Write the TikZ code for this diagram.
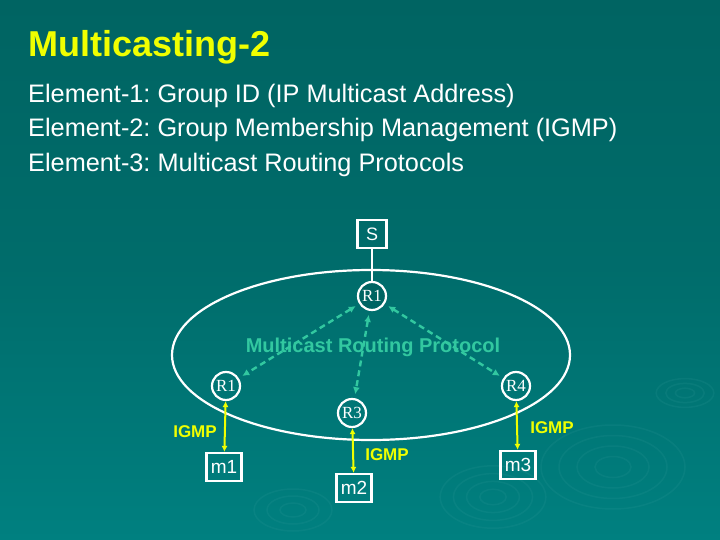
\documentclass[tikz,border=0pt]{standalone}
\usepackage{fontspec}
\setmainfont{Liberation Sans}
\newfontfamily\rfont{Liberation Serif}
\usetikzlibrary{arrows.meta}
\definecolor{bgtop}{RGB}{0,100,98}
\definecolor{bgbot}{RGB}{0,128,128}
\definecolor{ttl}{RGB}{240,255,0}
\definecolor{mrp}{RGB}{50,200,160}
\definecolor{rip}{RGB}{60,160,160}
\tikzset{
  every node/.style={text=white},
  srcbox/.style={draw=white, line width=2.2pt, minimum width=29pt, minimum height=28pt, inner sep=0pt, font=\fontsize{18}{18}\selectfont},
  router/.style={circle, draw=white, line width=2.2pt, minimum size=28pt, inner sep=0pt, font=\rfont\fontsize{17}{17}\selectfont},
  hostbox/.style={draw=white, line width=2.2pt, minimum width=35pt, minimum height=28pt, inner sep=0pt, font=\fontsize{19}{19}\selectfont},
  igmp/.style={draw=ttl, line width=2pt, {Latex[length=6pt,width=6pt]}-{Latex[length=6pt,width=6pt]}},
  igmplbl/.style={text=ttl, font=\bfseries\fontsize{17}{17}\selectfont},
  mroute/.style={draw=mrp, line width=2.4pt, dash pattern=on 6pt off 4pt, {Latex[length=7pt,width=7pt]}-{Latex[length=7pt,width=7pt]}, shorten <=4pt, shorten >=4pt},
  elem/.style={anchor=west, font=\fontsize{25.3}{25.3}\selectfont, inner sep=0pt},
  ripple/.style={draw=rip, opacity=0.15, line width=1.5pt}
}
\begin{document}
\frenchspacing
\begin{tikzpicture}[x=1pt,y=-1pt]
\useasboundingbox (0,0) rectangle (720,540);
\shade[top color=bgtop, bottom color=bgbot, middle color=bgtop!70!bgbot] (0,0) rectangle (720,540);
% faint ripples
\foreach \r in {8,16,24} \draw[ripple] (685,393) ellipse ({\r*1.2} and {\r*0.6});
\foreach \r in {15,30,45,60} \draw[ripple] (613,467) ellipse ({\r*1.2} and {\r*0.7});
\foreach \r in {12,24,36,48} \draw[ripple] (493,497) ellipse ({\r*1.1} and {\r*0.65});
\foreach \r in {10,20,30} \draw[ripple] (293,510) ellipse ({\r*1.3} and {\r*0.7});
% title and text
\node[anchor=west, inner sep=0pt, text=ttl, font=\bfseries\fontsize{36}{36}\selectfont] (title) at (28,47) {Multicasting-2};
\node[elem] (e1) at (28,96) {Element-1: Group ID (IP Multicast Address)};
\node[elem] (e2) at (28,130) {Element-2: Group Membership Management (IGMP)};
\node[elem] (e3) at (28,165) {Element-3: Multicast Routing Protocols};
% ellipse
\draw[white, line width=2.2pt] (371,355) ellipse (199 and 85);
% nodes
\node[srcbox] (S) at (372,234) {S};
\node[router, fill=bgtop] (R1t) at (372,296) {R1};
\node[router] (R1l) at (226,386) {R1};
\node[router] (R3) at (352,413) {R3};
\node[router] (R4) at (516,386) {R4};
\node[hostbox] (m1) at (224,467) {m1};
\node[hostbox] (m2) at (354,488) {m2};
\node[hostbox] (m3) at (518,465) {m3};
\draw[white, line width=2.2pt] (S) -- (R1t);
% routing protocol dashed arrows
\draw[mroute] (R1t) -- (R1l);
\draw[mroute] (R1t) -- (R3);
\draw[mroute] (R1t) -- (R4);
\node[text=mrp, font=\bfseries\fontsize{20}{20}\selectfont] (mrpl) at (373,347) {Multicast Routing Protocol};
% IGMP
\draw[igmp] (R1l) -- (m1);
\draw[igmp] (R3) -- (m2);
\draw[igmp] (R4) -- (m3);
\node[igmplbl] (g1) at (195,432) {IGMP};
\node[igmplbl] (g2) at (387,455) {IGMP};
\node[igmplbl] (g3) at (552,428) {IGMP};
\end{tikzpicture}
\end{document}
